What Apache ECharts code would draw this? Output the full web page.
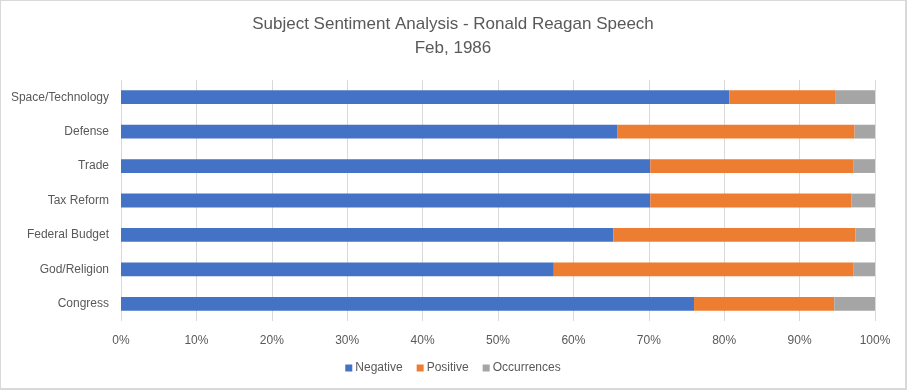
<!DOCTYPE html>
<html>
<head>
<meta charset="utf-8">
<script src="https://cdn.jsdelivr.net/npm/echarts@6/dist/echarts.min.js"></script>
<style>
html,body{margin:0;padding:0;background:#fff;}
#c{width:907px;height:390px;box-sizing:border-box;border:2px solid #d9d9d9;border-top-width:1px;border-left-width:1px;}
</style>
</head>
<body>
<div id="c"></div>
<script>
const categories = ['Space/Technology','Defense','Trade','Tax Reform','Federal Budget','God/Religion','Congress'];
const negative = [80.7, 65.8, 70.2, 70.2, 65.3, 57.4, 76.0];
const positive = [14.1, 31.5, 26.9, 26.7, 32.1, 39.7, 18.6];
const occurrences = [5.2, 2.7, 2.9, 3.1, 2.6, 2.9, 5.4];
const xTicks = [0,10,20,30,40,50,60,70,80,90,100];

const font = "'Liberation Sans', Arial, sans-serif";
const chart = echarts.init(document.getElementById('c'), null, {renderer:'canvas'});
chart.setOption({
  animation:false,
  textStyle:{fontFamily:font},
  title:{
    text:'Subject Sentiment Analysis - Ronald Reagan Speech\nFeb, 1986',
    left:'center', top:6,
    textStyle:{fontFamily:font,fontSize:17,fontWeight:'normal',color:'#595959',lineHeight:24}
  },
  legend:{
    bottom:9, left:'center',
    itemWidth:7,itemHeight:7,itemGap:14,
    icon:'rect',
    textStyle:{fontFamily:font,fontSize:12,color:'#595959',padding:[0,0,0,-2]},
    data:['Negative','Positive','Occurrences']
  },
  grid:{left:120,right:30,top:79,bottom:67,containLabel:false},
  xAxis:{
    type:'value',min:0,max:100,interval:10,
    axisLine:{show:false},axisTick:{show:false},
    axisLabel:{formatter:v=>xTicks.includes(v)?v+'%':'',color:'#595959',fontSize:12,margin:14,fontFamily:font},
    splitLine:{show:true,lineStyle:{color:'#d9d9d9',width:1}}
  },
  yAxis:{
    type:'category',data:categories,inverse:true,
    axisLine:{show:false},axisTick:{show:false},
    axisLabel:{color:'#595959',fontSize:12,margin:12,fontFamily:font}
  },
  series:[
    {name:'Negative',type:'bar',stack:'t',data:negative,barWidth:'40%',itemStyle:{color:'#4472C4'}},
    {name:'Positive',type:'bar',stack:'t',data:positive,barWidth:'40%',itemStyle:{color:'#ED7D31'}},
    {name:'Occurrences',type:'bar',stack:'t',data:occurrences,barWidth:'40%',itemStyle:{color:'#A5A5A5'}}
  ]
});
</script>
</body>
</html>
